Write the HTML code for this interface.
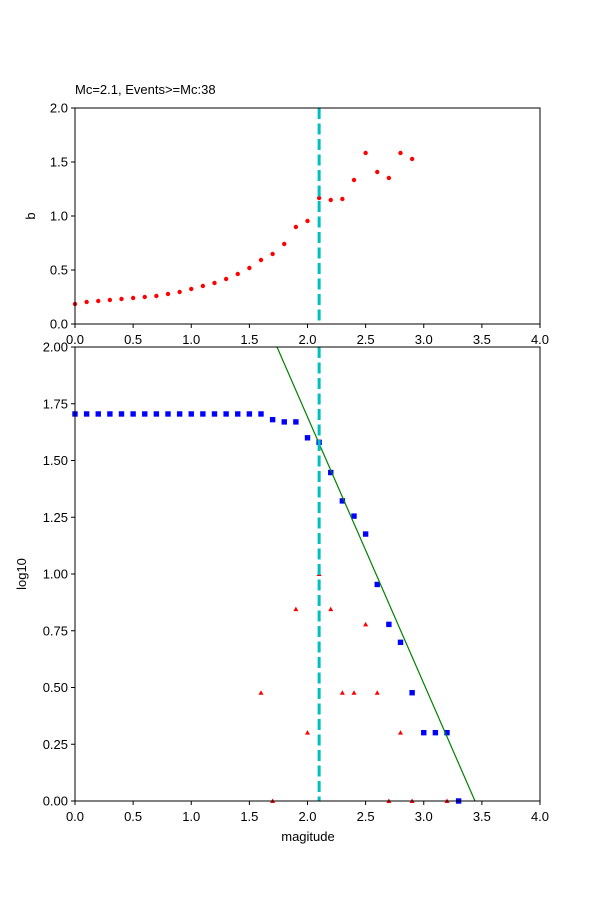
<!DOCTYPE html>
<html><head><meta charset="utf-8"><style>
body{margin:0;background:#fff}
svg text{font-family:"Liberation Sans","DejaVu Sans",sans-serif;font-size:13px;fill:#000}
</style></head><body>
<svg id="s" width="600" height="900" xmlns="http://www.w3.org/2000/svg">
<rect width="600" height="900" fill="#fff"/>
<text x="75" y="94">Mc=2.1, Events&gt;=Mc:38</text>
<text x="308" y="841" text-anchor="middle">magitude</text>
<text transform="translate(35,216) rotate(-90)" text-anchor="middle">b</text>
<text transform="translate(26,574) rotate(-90)" text-anchor="middle">log10</text>
<g id="g"></g>
</svg>
<script>
var g=document.getElementById('g'),h='';
function X(v){return 75+v*116.25}
function T(v){return 324-v*108}
function B(v){return 801-v*227}
var ty=[304,302,301,300,299,298,297,296,294,292,289,286,283,279,274,268,260,254,244,227,221,198,200,199,180,153,172,178,153,159];
ty.forEach(function(y,i){h+='<circle cx="'+X(i/10)+'" cy="'+y+'" r="2.2" fill="red"/>';});
var bs=[[0,1.705],[0.1,1.705],[0.2,1.705],[0.3,1.705],[0.4,1.705],[0.5,1.705],[0.6,1.705],[0.7,1.705],[0.8,1.705],[0.9,1.705],[1,1.705],[1.1,1.705],[1.2,1.705],[1.3,1.705],[1.4,1.705],[1.5,1.705],[1.6,1.705],[1.7,1.68],[1.8,1.67],[1.9,1.67],[2,1.6],[2.1,1.58],[2.2,1.447],[2.3,1.322],[2.4,1.255],[2.5,1.176],[2.6,0.954],[2.7,0.778],[2.8,0.699],[2.9,0.477],[3,0.301],[3.1,0.301],[3.2,0.301],[3.3,0]];
bs.forEach(function(p){h+='<rect x="'+(X(p[0])-2.7)+'" y="'+(B(p[1])-2.7)+'" width="5.4" height="5.4" fill="blue"/>';});
var tr=[[1.6,0.477],[1.7,0],[1.9,0.845],[2,0.301],[2.1,1.0],[2.2,0.845],[2.3,0.477],[2.4,0.477],[2.5,0.778],[2.6,0.477],[2.7,0],[2.8,0.301],[2.9,0],[3.2,0]];
tr.forEach(function(p){var x=X(p[0]),y=B(p[1]);h+='<polygon points="'+(x-2.5)+','+(y+2)+' '+(x+2.5)+','+(y+2)+' '+x+','+(y-2.5)+'" fill="red"/>';});
h+='<line x1="277" y1="347" x2="475" y2="801" stroke="green" stroke-width="1.2"/>';
h+='<line x1="'+X(2.1)+'" y1="108" x2="'+X(2.1)+'" y2="324" stroke="#00bfbf" stroke-width="3" stroke-dasharray="11,4.5"/>';
h+='<line x1="'+X(2.1)+'" y1="347" x2="'+X(2.1)+'" y2="801" stroke="#00bfbf" stroke-width="3" stroke-dasharray="11,4.5"/>';
h+='<rect x="75" y="108" width="465" height="216" fill="none" stroke="#000" stroke-width="1"/>';
h+='<rect x="75" y="347" width="465" height="454" fill="none" stroke="#000" stroke-width="1"/>';
for(var i=0;i<=8;i++){var v=i*0.5,x=X(v),l=v.toFixed(1);
 h+='<line x1="'+x+'" y1="324" x2="'+x+'" y2="328" stroke="#000"/><text x="'+x+'" y="344" text-anchor="middle">'+l+'</text>';
 h+='<line x1="'+x+'" y1="801" x2="'+x+'" y2="805" stroke="#000"/><text x="'+x+'" y="821" text-anchor="middle">'+l+'</text>';}
for(var i=0;i<=4;i++){var v=i*0.5,y=T(v);
 h+='<line x1="71" y1="'+y+'" x2="75" y2="'+y+'" stroke="#000"/><text x="68" y="'+(y+4.5)+'" text-anchor="end">'+v.toFixed(1)+'</text>';}
for(var i=0;i<=8;i++){var v=i*0.25,y=B(v);
 h+='<line x1="71" y1="'+y+'" x2="75" y2="'+y+'" stroke="#000"/><text x="68" y="'+(y+4.5)+'" text-anchor="end">'+v.toFixed(2)+'</text>';}
g.innerHTML=h;
</script>
</body></html>
